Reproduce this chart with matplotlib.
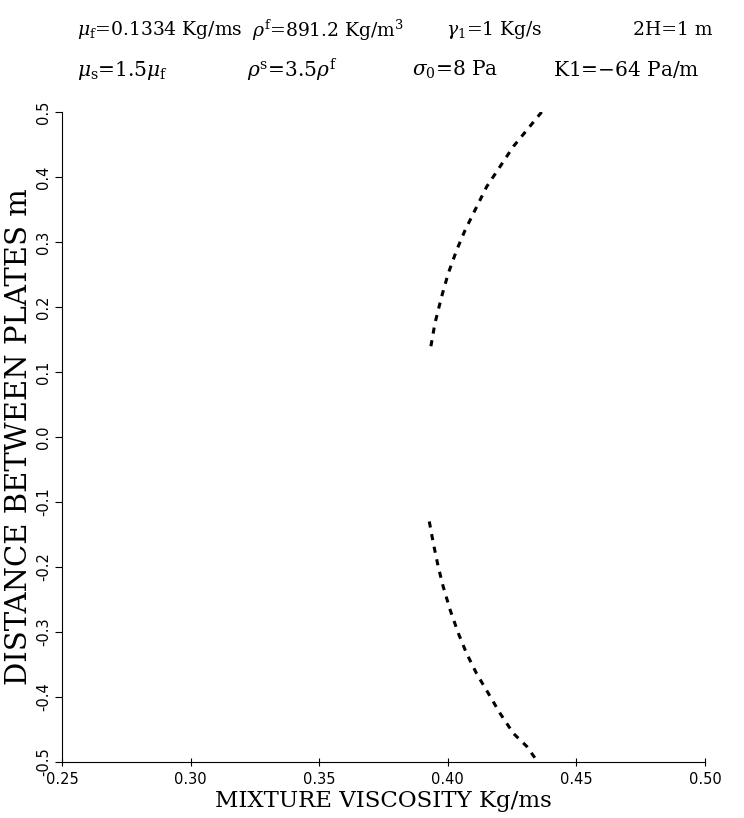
import numpy as np
import matplotlib
matplotlib.use('Agg')
import matplotlib.pyplot as plt

plt.rcParams['font.family'] = ['DejaVu Serif']
plt.rcParams['mathtext.fontset'] = 'dejavuserif'

# Верхняя ветвь профиля вязкости
visc_upper = [0.4365, 0.4307, 0.4255, 0.4203, 0.4151, 0.4112, 0.4067,
              0.4035, 0.4002, 0.3976, 0.3950, 0.3934]
dist_upper = [0.500, 0.472, 0.447, 0.416, 0.385, 0.354, 0.318,
              0.288, 0.252, 0.216, 0.175, 0.139]

# Нижняя ветвь профиля вязкости
visc_lower = [0.3928, 0.3944, 0.3963, 0.3982, 0.4009, 0.4041, 0.4073,
              0.4112, 0.4157, 0.4203, 0.4255, 0.4307, 0.4350]
dist_lower = [-0.130, -0.164, -0.200, -0.230, -0.266, -0.302, -0.333,
              -0.364, -0.394, -0.425, -0.456, -0.476, -0.500]

x_ticks = [0.25, 0.30, 0.35, 0.40, 0.45, 0.50]
y_ticks = [0.5, 0.4, 0.3, 0.2, 0.1, 0.0, -0.1, -0.2, -0.3, -0.4, -0.5]

header_1 = [r'$\mu_{\rm f}$=0.1334 Kg/ms', r"$\rho^{\rm f}$=891.2 Kg/m$^3$",
            r'$\gamma_1$=1 Kg/s', '2H=1 m']
header_2 = [r'$\mu_{\rm s}$=1.5$\mu_{\rm f}$', r"$\rho^{\rm s}$=3.5$\rho^{\rm f}$",
            r'$\sigma_0$=8 Pa', 'K1=$-$64 Pa/m']
header_1_x = [77, 252, 446, 633]
header_2_x = [77, 247, 412, 553]

W, H = 744, 818
fig = plt.figure(figsize=(W / 100, H / 100), dpi=100)
ax = fig.add_axes([62 / W, 1 - 762 / H, (705 - 62) / W, (762 - 112) / H])

ax.plot(visc_upper, dist_upper, color='black', lw=2.2, ls=(0, (2, 2.2)))
ax.plot(visc_lower, dist_lower, color='black', lw=2.2, ls=(0, (2, 2.2)))

ax.set_xlim(0.25, 0.50)
ax.set_ylim(-0.5, 0.5)
ax.set_xticks(x_ticks)
ax.set_xticklabels(['%.2f' % v for v in x_ticks], family='DejaVu Sans', fontsize=10.5)
ax.set_yticks(y_ticks)
ax.set_yticklabels(['%.1f' % v if v != 0 else '0.0' for v in y_ticks],
                   family='DejaVu Sans', fontsize=10.5, rotation=90, va='center')
ax.tick_params(axis='x', direction='inout', length=6, width=0.8, pad=4)
ax.tick_params(axis='y', direction='out', length=5, width=0.8, pad=3)
ax.spines['top'].set_visible(False)
ax.spines['right'].set_visible(False)

ax.set_xlabel('MIXTURE VISCOSITY Kg/ms', fontsize=16.5, labelpad=2)
ax.set_ylabel('DISTANCE BETWEEN PLATES m', fontsize=21, labelpad=2)

for t, x in zip(header_1, header_1_x):
    fig.text(x / W, 1 - 30 / H, t, fontsize=13.5, va='center', ha='left')
for t, x in zip(header_2, header_2_x):
    fig.text(x / W, 1 - 70 / H, t, fontsize=14.5, va='center', ha='left')

fig.savefig('out.png', dpi=100)
